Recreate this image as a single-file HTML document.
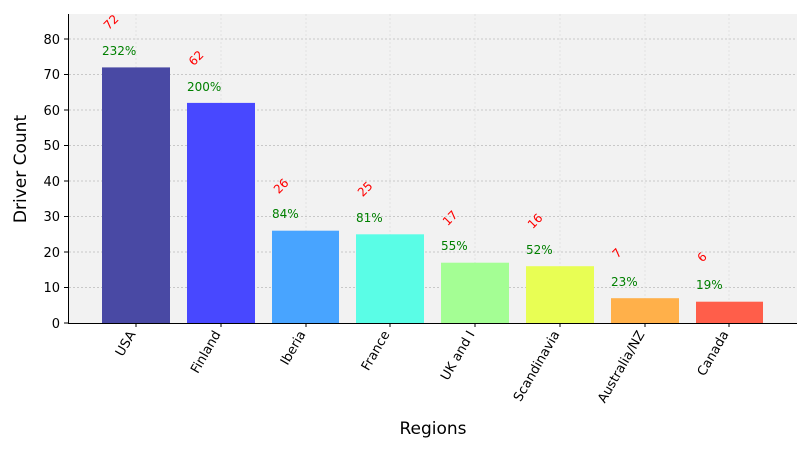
<!DOCTYPE html>
<html><head><meta charset="utf-8"><style>body{margin:0;background:#fff}svg{display:block}</style></head><body>
<svg width="810" height="450" xmlns="http://www.w3.org/2000/svg" font-family="DejaVu Sans, Liberation Sans, sans-serif">
<rect x="69" y="14" width="728" height="309" fill="#f2f2f2"/>
<g stroke="#bbb" stroke-width="0.8" stroke-dasharray="2,2">
<line x1="69" x2="797" y1="287.5" y2="287.5"/><line x1="69" x2="797" y1="252" y2="252"/><line x1="69" x2="797" y1="216.5" y2="216.5"/><line x1="69" x2="797" y1="181" y2="181"/><line x1="69" x2="797" y1="145.5" y2="145.5"/><line x1="69" x2="797" y1="110" y2="110"/><line x1="69" x2="797" y1="74.5" y2="74.5"/><line x1="69" x2="797" y1="39" y2="39"/>
</g>
<g stroke="#ddd" stroke-width="0.8" stroke-dasharray="2,2">
<line x1="136" x2="136" y1="14" y2="323"/><line x1="221" x2="221" y1="14" y2="323"/><line x1="306" x2="306" y1="14" y2="323"/><line x1="390" x2="390" y1="14" y2="323"/><line x1="475" x2="475" y1="14" y2="323"/><line x1="560" x2="560" y1="14" y2="323"/><line x1="645" x2="645" y1="14" y2="323"/><line x1="729" x2="729" y1="14" y2="323"/>
</g>
<rect x="102" y="67.4" width="68" height="255.6" fill="#4949a4"/>
<rect x="187" y="102.9" width="68" height="220.1" fill="#4848ff"/>
<rect x="272" y="230.7" width="67" height="92.3" fill="#48a4ff"/>
<rect x="356" y="234.3" width="68" height="88.7" fill="#5afde6"/>
<rect x="441" y="262.7" width="68" height="60.3" fill="#a4fe94"/>
<rect x="526" y="266.2" width="68" height="56.8" fill="#e8fe54"/>
<rect x="611" y="298.2" width="68" height="24.8" fill="#ffb04a"/>
<rect x="696" y="301.7" width="67" height="21.3" fill="#ff5e4a"/>
<g fill="red" font-size="12" text-anchor="middle">
<text transform="translate(114,25) rotate(-45)">72</text>
<text transform="translate(199,61) rotate(-45)">62</text>
<text transform="translate(284,189) rotate(-45)">26</text>
<text transform="translate(368,192) rotate(-45)">25</text>
<text transform="translate(453,221) rotate(-45)">17</text>
<text transform="translate(538,224) rotate(-45)">16</text>
<text transform="translate(620,256) rotate(-45)">7</text>
<text transform="translate(705,260) rotate(-45)">6</text>
</g>
<g fill="green" font-size="12">
<text x="102" y="55">232%</text><text x="187" y="91">200%</text><text x="272" y="218">84%</text><text x="356" y="222">81%</text><text x="441" y="250">55%</text><text x="526" y="254">52%</text><text x="611" y="286">23%</text><text x="696" y="289">19%</text>
</g>
<line x1="68.5" x2="68.5" y1="14" y2="323.5" stroke="#000"/>
<line x1="68" x2="797" y1="323.5" y2="323.5" stroke="#000"/>
<g stroke="#000">
<line x1="64" x2="68" y1="323" y2="323"/><line x1="64" x2="68" y1="287.5" y2="287.5"/><line x1="64" x2="68" y1="252" y2="252"/><line x1="64" x2="68" y1="216.5" y2="216.5"/><line x1="64" x2="68" y1="181" y2="181"/><line x1="64" x2="68" y1="145.5" y2="145.5"/><line x1="64" x2="68" y1="110" y2="110"/><line x1="64" x2="68" y1="74.5" y2="74.5"/><line x1="64" x2="68" y1="39" y2="39"/>
<line x1="136" x2="136" y1="323" y2="327"/><line x1="221" x2="221" y1="323" y2="327"/><line x1="306" x2="306" y1="323" y2="327"/><line x1="390" x2="390" y1="323" y2="327"/><line x1="475" x2="475" y1="323" y2="327"/><line x1="560" x2="560" y1="323" y2="327"/><line x1="645" x2="645" y1="323" y2="327"/><line x1="729" x2="729" y1="323" y2="327"/>
</g>
<g font-size="13" text-anchor="end" fill="#000">
<text x="60" y="328">0</text><text x="60" y="292">10</text><text x="60" y="257">20</text><text x="60" y="221">30</text><text x="60" y="186">40</text><text x="60" y="150">50</text><text x="60" y="115">60</text><text x="60" y="79">70</text><text x="60" y="44">80</text>
</g>
<g font-size="13" text-anchor="end" fill="#000">
<text transform="translate(136,334) rotate(-60)">USA</text>
<text transform="translate(221,334) rotate(-60)">Finland</text>
<text transform="translate(306,334) rotate(-60)">Iberia</text>
<text transform="translate(390,334) rotate(-60)">France</text>
<text transform="translate(475,334) rotate(-60)">UK and I</text>
<text transform="translate(560,334) rotate(-60)">Scandinavia</text>
<text transform="translate(645,334) rotate(-60)">Australia/NZ</text>
<text transform="translate(729,334) rotate(-60)">Canada</text>
</g>
<text x="433" y="434" font-size="17" text-anchor="middle">Regions</text>
<text transform="translate(26,169) rotate(-90)" font-size="17" text-anchor="middle">Driver Count</text>
</svg>
</body></html>
